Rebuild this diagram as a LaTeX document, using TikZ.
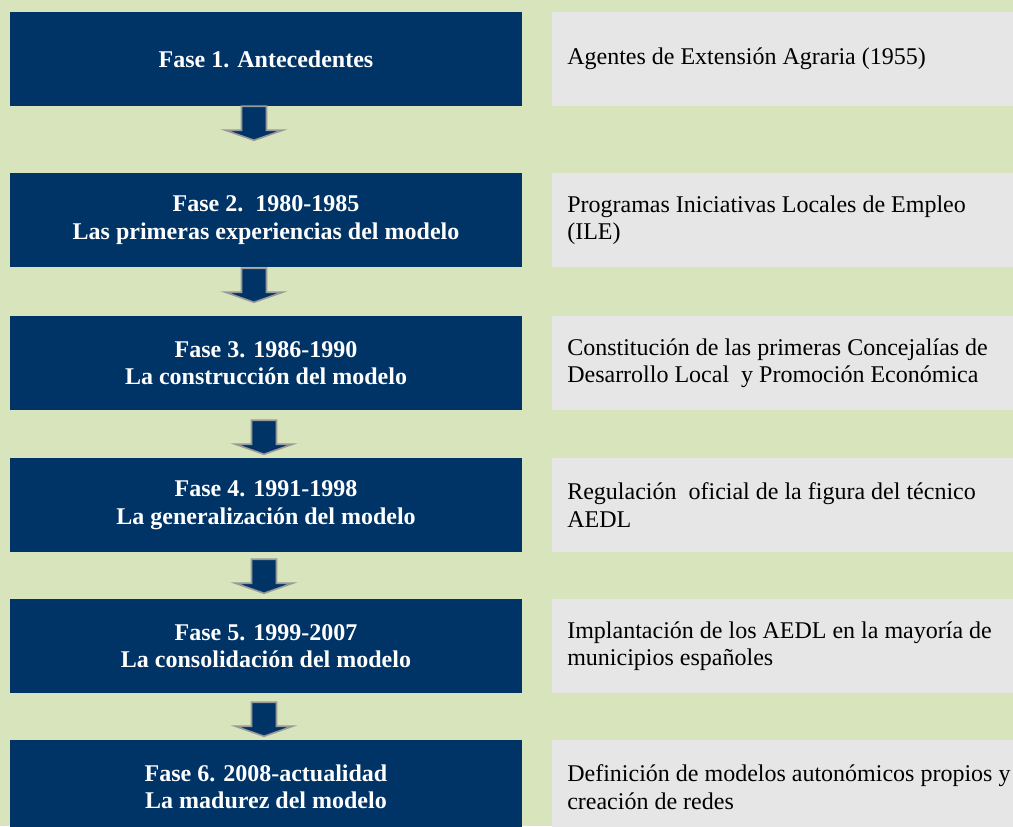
\documentclass[tikz,border=0pt]{standalone}
\usepackage{fontspec}
\setmainfont{Liberation Serif}
\usetikzlibrary{calc}

\definecolor{fondo}{HTML}{D8E4BC}
\definecolor{azulfase}{HTML}{003366}
\definecolor{grisnota}{HTML}{E6E6E6}

\begin{document}
\begin{tikzpicture}[x=0.75pt, y=-0.75pt,
    fase/.style={fill=azulfase, text=white, font=\fontsize{18}{20.5}\selectfont\bfseries,
        align=center, minimum width=384pt, minimum height=70.5pt, inner sep=0pt},
    nota/.style={fill=grisnota, text=black, font=\fontsize{18}{20.5}\selectfont,
        align=flush left, anchor=west, text width=360pt, minimum height=70.5pt,
        inner xsep=11.25pt, inner ysep=0pt},
    flecha/.style={fill=azulfase, draw=gray!80, line width=1.2pt}]

            % Background
            \fill[fondo] (0,0) rectangle (1013,826);
            \useasboundingbox (0,0) rectangle (1013,826);

            % Define phases
            \node[fase] (f1) at (266,59) {Fase 1. Antecedentes};
            \node[fase] (f2) at (266,220) {Fase 2.\ \ 1980-1985\\Las primeras experiencias del modelo};
            \node[fase] (f3) at (266,363) {Fase 3. 1986-1990\\La construcción del modelo};
            \node[fase] (f4) at (266,505) {Fase 4. 1991-1998\\La generalización del modelo};
            \node[fase] (f5) at (266,646) {Fase 5. 1999-2007\\La consolidación del modelo};
            \node[fase] (f6) at (266,787) {Fase 6. 2008-actualidad\\La madurez del modelo};

            % Define notes
            \node[nota] (n1) at (552,59) {Agentes de Extensión Agraria (1955)};
            \node[nota] (n2) at (552,220) {Programas Iniciativas Locales de Empleo\\(ILE)};
            \node[nota] (n3) at (552,363) {Constitución de las primeras Concejalías de\\Desarrollo Local\ \ y Promoción Económica};
            \node[nota] (n4) at (552,505) {Regulación\ \ oficial de la figura del técnico\\AEDL};
            \node[nota] (n5) at (552,646) {Implantación de los AEDL en la mayoría de\\municipios españoles};
            \node[nota] (n6) at (552,787) {Definición de modelos autonómicos propios y\\creación de redes};

            % Draw block arrows
            \foreach \a/\dx/\dy in {f1/-12/0, f2/-12/1, f3/-2/10, f4/-2/7, f5/-2/9}
                \draw[flecha] ($(\a.south)+(\dx-12.5,\dy)$) -- ++(25,0) -- ++(0,24) -- ++(16,0)
                    -- ++(-28.5,10) -- ++(-28.5,-10) -- ++(16,0) -- cycle;
        \end{tikzpicture}
\end{document}
